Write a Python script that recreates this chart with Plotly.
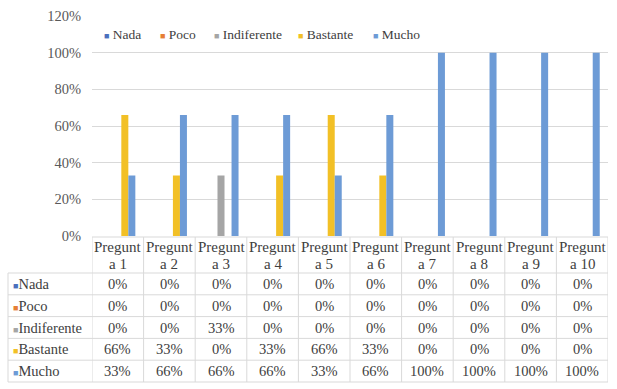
import plotly.graph_objects as go

categories = [f"Pregunta {i}" for i in range(1, 11)]
series_names = ["Nada", "Poco", "Indiferente", "Bastante", "Mucho"]
series_colors = ["#4A70BD", "#E67E35", "#A5A5A5", "#F2C026", "#6D9BD6"]
nada = [0, 0, 0, 0, 0, 0, 0, 0, 0, 0]
poco = [0, 0, 0, 0, 0, 0, 0, 0, 0, 0]
indiferente = [0, 0, 0.33, 0, 0, 0, 0, 0, 0, 0]
bastante = [0.66, 0.33, 0, 0.33, 0.66, 0.33, 0, 0, 0, 0]
mucho = [0.33, 0.66, 0.66, 0.66, 0.33, 0.66, 1.0, 1.0, 1.0, 1.0]
y_ticks = [0, 0.2, 0.4, 0.6, 0.8, 1.0, 1.2]

series_values = [nada, poco, indiferente, bastante, mucho]

W, H = 617, 389
FONT = "Liberation Serif, Times New Roman, serif"
TXT = "#404040"
GRID = "#D9D9D9"
plot_left, plot_right = 92, 608
plot_top, plot_bottom = 16, 236
table_left = 8
header_top, header_h, row_h = 237, 36, 21.8
legend_widths = [11, 9, 39, 30, 60]   # spacing of legend entries (px)


def py(px):
    """pixel row from top -> paper fraction"""
    return 1 - px / H


fig = go.Figure()
for name, color, vals, lw in zip(series_names, series_colors, series_values, legend_widths):
    fig.add_trace(go.Bar(
        x=categories, y=vals, name=name,
        marker=dict(color=color, line=dict(width=0)),
        showlegend=False, hoverinfo="x+y+name",
    ))
    # legend entry: coloured square inside the label, invisible marker
    fig.add_trace(go.Scatter(
        x=[None], y=[None], mode="markers",
        name=f"<span style='color:{color};font-size:9px'>■</span> {name}",
        marker=dict(symbol="square", size=0, opacity=0, color="rgba(0,0,0,0)",
                    line=dict(width=0)),
        showlegend=True, legendwidth=lw, hoverinfo="skip",
    ))

shapes = []
annotations = []
n = len(categories)
row_edges = [header_top + header_h + k * row_h for k in range(len(series_names) + 1)]

# vertical borders at category boundaries
for i in range(n + 1):
    shapes.append(dict(type="line", xref="x", yref="paper",
                       x0=i - 0.5, x1=i - 0.5, y0=py(header_top), y1=py(row_edges[-1]),
                       line=dict(color=GRID, width=1)))
# left border of the label column
shapes.append(dict(type="line", xref="paper", yref="paper",
                   x0=table_left / W, x1=table_left / W, y0=py(row_edges[0]), y1=py(row_edges[-1]),
                   line=dict(color=GRID, width=1)))
# top border of header
shapes.append(dict(type="line", xref="x", yref="paper", x0=-0.5, x1=n - 0.5,
                   y0=py(header_top), y1=py(header_top), line=dict(color=GRID, width=1)))
# horizontal row borders
for ye in row_edges:
    shapes.append(dict(type="line", xref="paper", yref="paper",
                       x0=table_left / W, x1=plot_right / W, y0=py(ye), y1=py(ye),
                       line=dict(color=GRID, width=1)))

# header labels (wrapped as in the reference)
for c in categories:
    for line, yc in ((c[:7], header_top + 10), (c[7:], header_top + 27)):
        annotations.append(dict(x=c, xref="x", y=py(yc), yref="paper", text=line,
                                showarrow=False, xanchor="center", yanchor="middle",
                                font=dict(family=FONT, size=15, color=TXT)))
# row labels with key squares
for r, (name, color) in enumerate(zip(series_names, series_colors)):
    yc = (row_edges[r] + row_edges[r + 1]) / 2
    annotations.append(dict(x=(table_left + 3) / W, xref="paper", y=py(yc), yref="paper",
                            text=f"<span style='color:{color};font-size:9px'>■</span>{name}",
                            showarrow=False, xanchor="left", yanchor="middle",
                            font=dict(family=FONT, size=14.5, color=TXT)))
    for i, c in enumerate(categories):
        annotations.append(dict(x=c, xref="x", y=py(yc), yref="paper",
                                text=f"{round(series_values[r][i] * 100)}%",
                                showarrow=False, xanchor="center", yanchor="middle",
                                font=dict(family=FONT, size=14.5, color=TXT)))

fig.update_layout(
    width=W, height=H,
    margin=dict(l=0, r=0, t=0, b=0, autoexpand=False),
    paper_bgcolor="white", plot_bgcolor="white",
    barmode="group", bargap=0.32, bargroupgap=0,
    font=dict(family=FONT, size=14, color=TXT),
    shapes=shapes, annotations=annotations,
    legend=dict(
        orientation="h", x=64 / W, xanchor="left", y=py(34), yanchor="middle",
        font=dict(family=FONT, size=13.5, color=TXT),
        bgcolor="rgba(0,0,0,0)", itemwidth=30, borderwidth=0,
    ),
    xaxis=dict(
        domain=[plot_left / W, plot_right / W], range=[-0.5, n - 0.5],
        showticklabels=False, showgrid=False, zeroline=False, showline=False,
        automargin=False,
    ),
    yaxis=dict(
        domain=[py(plot_bottom), py(plot_top)],
        range=[0, 1.2], tickvals=y_ticks, tickformat=".0%",
        showgrid=True, gridcolor=GRID, gridwidth=1,
        zeroline=False, showline=False, automargin=False,
        tickfont=dict(family=FONT, size=14.5, color="#595959"),
        ticklabelstandoff=10,
    ),
)

# remove the browser's default page margin so the figure fills the window exactly
fig.write_html(
    "out.html",
    config={"displayModeBar": False},
    post_script="document.body.style.margin='0';document.body.style.overflow='hidden';",
)
